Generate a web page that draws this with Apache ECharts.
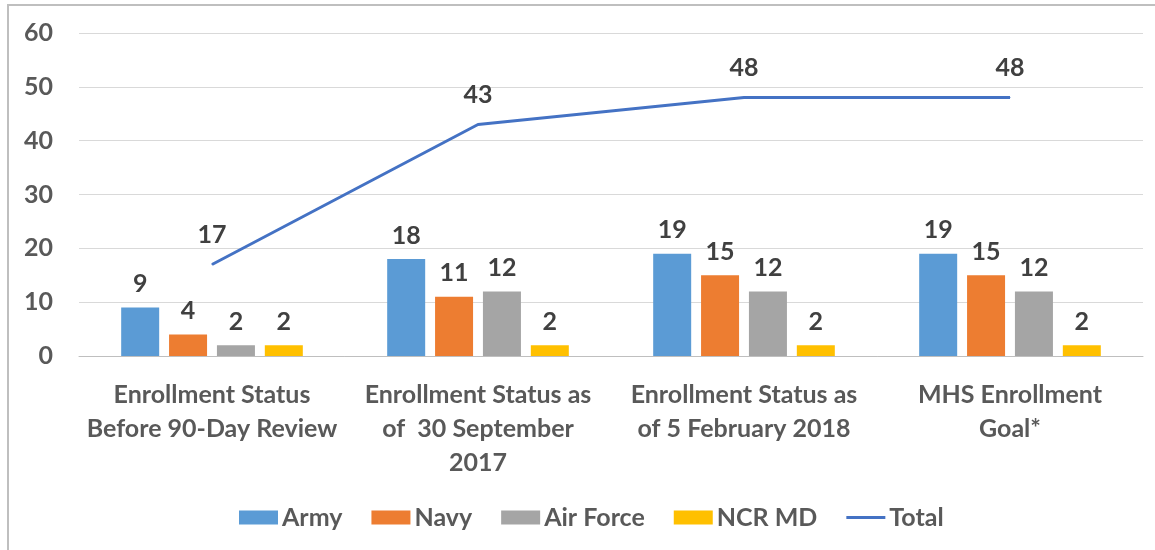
<!DOCTYPE html>
<html>
<head>
<meta charset="utf-8">
<script src="https://cdn.jsdelivr.net/npm/echarts@6/dist/echarts.min.js"></script>
<style>
html,body{margin:0;padding:0;background:#fff;}
#chart{width:1155px;height:550px;}
</style>
</head>
<body>
<div id="chart"></div>
<script>
const categories = [
  "Enrollment Status\nBefore 90-Day Review",
  "Enrollment Status as\nof  30 September\n2017",
  "Enrollment Status as\nof 5 February 2018",
  "MHS Enrollment\nGoal*"
];
const army = [9, 18, 19, 19];
const navy = [4, 11, 15, 15];
const airForce = [2, 12, 12, 12];
const ncrMd = [2, 2, 2, 2];
const total = [17, 43, 48, 48];
const yTicks = [0, 10, 20, 30, 40, 50, 60];

const FONT = 'Lato';
const FS = 25;
const chart = echarts.init(document.getElementById('chart'));
const barLabel = {show: true, position: 'top', distance: 11, fontFamily: FONT, fontWeight: 'bold', fontSize: FS, color: '#404040'};
function barSeries(name, data, color) {
  return {name, type: 'bar', data, barWidth: 38, barGap: '26%', itemStyle: {color}, label: barLabel};
}
chart.setOption({
  animation: false,
  textStyle: {fontFamily: FONT},
  graphic: [{type: 'rect', shape: {x: 8, y: 5, width: 1300, height: 700}, style: {fill: 'none', stroke: '#BFBFBF', lineWidth: 2}, silent: true}],
  grid: {left: 79, right: 12, top: 33, bottom: 194},
  legend: {
    left: 234, top: 500, itemWidth: 39, itemHeight: 14, itemGap: 29,
    textStyle: {fontFamily: FONT, fontWeight: 'bold', fontSize: FS, color: '#595959', padding: [0, 0, 0, -1]},
    data: [
      {name: 'Army', icon: 'rect'},
      {name: 'Navy', icon: 'rect'},
      {name: 'Air Force', icon: 'rect'},
      {name: 'NCR MD', icon: 'rect'},
      {name: 'Total', icon: 'path://M0,0H42V3H0Z'}
    ]
  },
  xAxis: {
    type: 'category', data: categories,
    axisLine: {lineStyle: {color: '#BFBFBF', width: 1}},
    axisTick: {show: false},
    axisLabel: {interval: 0, margin: 22, fontFamily: FONT, fontWeight: 'bold', fontSize: FS, lineHeight: 34, color: '#595959'}
  },
  yAxis: {
    type: 'value', min: yTicks[0], max: yTicks[yTicks.length - 1], interval: 10,
    axisLine: {show: false}, axisTick: {show: false},
    splitLine: {lineStyle: {color: '#D9D9D9', width: 1}},
    axisLabel: {margin: 26, fontFamily: FONT, fontWeight: 'bold', fontSize: FS, color: '#595959'}
  },
  series: [
    barSeries('Army', army, '#5B9BD5'),
    barSeries('Navy', navy, '#ED7D31'),
    barSeries('Air Force', airForce, '#A5A5A5'),
    barSeries('NCR MD', ncrMd, '#FFC000'),
    {
      name: 'Total', type: 'line', data: total,
      symbol: 'circle', symbolSize: 1, showSymbol: true,
      itemStyle: {color: '#4472C4'},
      lineStyle: {color: '#4472C4', width: 3},
      label: {show: true, position: 'top', distance: 17, fontFamily: FONT, fontWeight: 'bold', fontSize: FS, color: '#404040'},
      z: 5
    }
  ]
});
</script>
</body>
</html>
